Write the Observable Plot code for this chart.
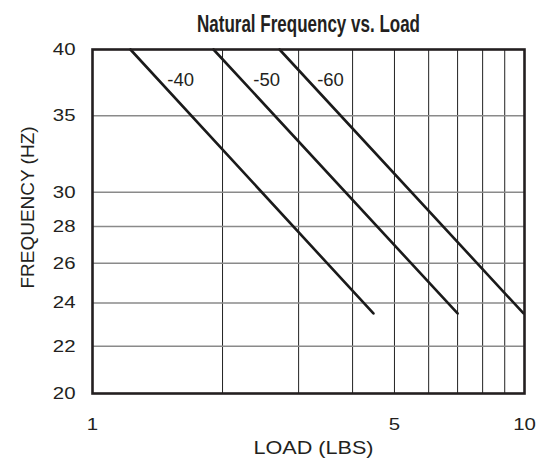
<!DOCTYPE html>
<html>
<head>
<meta charset="utf-8">
<script src="https://cdn.jsdelivr.net/npm/d3@7"></script>
<script src="https://cdn.jsdelivr.net/npm/@observablehq/plot@0.6"></script>
<style>
  html, body { margin: 0; padding: 0; background: #fff; }
</style>
</head>
<body>
<div id="chart"></div>
<script>
// ---- data ----
const series = ["-40", "-50", "-60"];
const startLoad = [1.224, 1.906, 2.71];   // LBS at 40 Hz
const endLoad = [4.47, 7.0, 9.95];        // LBS at 23.5 Hz
const startFreq = [40, 40, 40];
const endFreq = [23.5, 23.5, 23.5];
const labelLoad = [1.6, 2.53, 3.556];
const labelFreq = [37.6, 37.6, 37.6];

const xTicks = [1, 5, 10];
const xGrid = [2, 3, 4, 5, 6, 7, 8, 9];
const yTicks = [20, 22, 24, 26, 28, 30, 35, 40];
const yGrid = [22, 24, 26, 28, 30, 35];

const title = "Natural Frequency vs. Load";
const xLabel = "LOAD (LBS)";
const yLabel = "FREQUENCY (HZ)";

const lineData = series.flatMap((s, i) => [
  {series: s, load: startLoad[i], freq: startFreq[i]},
  {series: s, load: endLoad[i], freq: endFreq[i]}
]);
const labelData = series.map((s, i) => ({series: s, load: labelLoad[i], freq: labelFreq[i]}));

const ink = "#231f20";

const chart = Plot.plot({
  width: 542,
  height: 462,
  marginTop: 49,
  marginLeft: 92,
  marginRight: 18,
  marginBottom: 69,
  style: {fontFamily: "'Liberation Sans', Arial, sans-serif", fontSize: "17px", color: ink, background: "#fff"},
  x: {type: "log", domain: [1, 10]},
  y: {type: "log", domain: [20, 40]},
  marks: [
    Plot.ruleX(xGrid, {stroke: "#222", strokeWidth: 1}),
    Plot.ruleY(yGrid, {stroke: "#8a8a8a", strokeWidth: 1.6}),
    Plot.line(lineData, {x: "load", y: "freq", z: "series", stroke: "#1a1a1a", strokeWidth: 2.6}),
    Plot.text(labelData, {x: "load", y: "freq", text: "series", fontSize: 18.5, fill: ink, className: "serieslabel"}),
    Plot.frame({stroke: ink, strokeWidth: 2.6}),
    Plot.axisX(xTicks, {tickSize: 0, tickPadding: 24, tickFormat: d => String(d), label: null, fontSize: 17, className: "xtick"}),
    Plot.axisY(yTicks, {tickSize: 0, tickPadding: 17, tickFormat: d => String(d), label: null, fontSize: 17, className: "ytick"}),
    Plot.text([xLabel], {frameAnchor: "bottom", dx: 5, dy: 55, lineAnchor: "middle", fontSize: 18, fill: ink, className: "xlabel"}),
    Plot.text([yLabel], {frameAnchor: "left", textAnchor: "middle", rotate: -90, dx: -65, dy: -14, lineAnchor: "middle", fontSize: 19, fill: ink}),
    Plot.text([title], {frameAnchor: "top", dy: -25, lineAnchor: "middle", fontSize: 23.5, fontWeight: "bold",
      fontFamily: "'Liberation Sans Narrow', 'Liberation Sans', sans-serif", fill: ink, className: "ttl"})
  ]
});

document.getElementById("chart").appendChild(chart);

// horizontal stretch of the reference lettering
function stretch(sel, k) {
  chart.querySelectorAll(sel).forEach(t => {
    const w = t.getComputedTextLength();
    if (w > 0) {
      t.setAttribute("textLength", (w * k).toFixed(2));
      t.setAttribute("lengthAdjust", "spacingAndGlyphs");
    }
  });
}
stretch(".xtick text", 1.2);
stretch(".ytick text", 1.2);
stretch(".xlabel text", 1.2);
chart.querySelectorAll(".ttl text").forEach(t => {
  t.setAttribute("textLength", "223");
  t.setAttribute("lengthAdjust", "spacingAndGlyphs");
});
</script>
</body>
</html>
